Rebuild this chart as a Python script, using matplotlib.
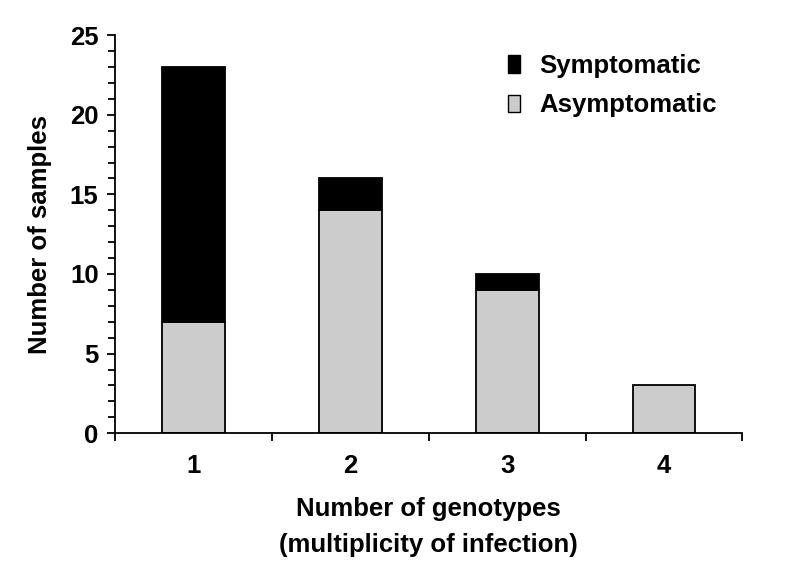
import matplotlib

matplotlib.use("Agg")
import matplotlib.pyplot as plt
from matplotlib.patches import Patch
from matplotlib.ticker import MultipleLocator, FixedLocator
import numpy as np

plt.rcParams["font.family"] = ["Liberation Sans", "DejaVu Sans"]
plt.rcParams["font.weight"] = "bold"

genotypes = ["1", "2", "3", "4"]
asymptomatic = [7, 14, 9, 3]
symptomatic = [16, 2, 1, 0]

FS = 18.5
LW = 1.3

fig = plt.figure(figsize=(8, 5.67), dpi=100)
ax = fig.add_axes([0.144, 0.236, 0.784, 0.702])

x = np.arange(1, len(genotypes) + 1)
ax.bar(x, asymptomatic, width=0.4, color="#cccccc", edgecolor="black", linewidth=LW)
sym_x = [xx for xx, s in zip(x, symptomatic) if s > 0]
sym_v = [s for s in symptomatic if s > 0]
sym_b = [a for a, s in zip(asymptomatic, symptomatic) if s > 0]
ax.bar(sym_x, sym_v, bottom=sym_b, width=0.4, color="black", edgecolor="black", linewidth=LW)

ax.set_xlim(0.5, 4.5)
ax.set_ylim(0, 25)
ax.yaxis.set_major_locator(MultipleLocator(5))
ax.yaxis.set_minor_locator(MultipleLocator(1))

# category boundaries carry the tick marks, labels sit at the centres
ax.xaxis.set_major_locator(FixedLocator(np.arange(0.5, 4.6, 1.0)))
ax.xaxis.set_major_formatter(plt.NullFormatter())
ax.xaxis.set_minor_locator(FixedLocator(x))
ax.set_xticklabels(genotypes, minor=True)
ax.tick_params(axis="x", which="minor", length=0, labelsize=FS, pad=15)
ax.tick_params(axis="x", which="major", length=6, width=LW)
ax.tick_params(axis="y", which="major", length=6, width=LW, labelsize=FS, pad=6)
ax.tick_params(axis="y", which="minor", length=5, width=LW)

for side in ["top", "right"]:
    ax.spines[side].set_visible(False)
for side in ["left", "bottom"]:
    ax.spines[side].set_linewidth(LW)

ax.set_ylabel("Number of samples", fontsize=FS, fontweight="bold", labelpad=13)
ax.set_xlabel("Number of genotypes\n(multiplicity of infection)", fontsize=FS,
              fontweight="bold", labelpad=14, linespacing=1.6)

handles = [Patch(facecolor="black", edgecolor="black", linewidth=1.0, label="Symptomatic"),
           Patch(facecolor="#cccccc", edgecolor="black", linewidth=1.0, label="Asymptomatic")]
fig.legend(handles=handles, loc="upper left", bbox_to_anchor=(508 / 800, 1 - 54 / 567),
           frameon=False, borderpad=0, borderaxespad=0, handlelength=0.47,
           handleheight=0.65, handletextpad=0.75, labelspacing=0.6,
           prop={"weight": "bold", "size": FS})

fig.savefig("out.png", dpi=100)
